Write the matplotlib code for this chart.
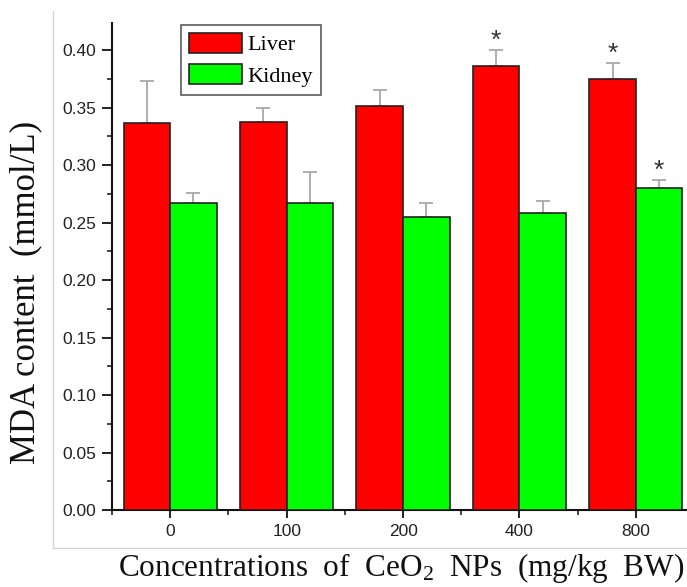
import matplotlib
matplotlib.use("Agg")
import matplotlib.pyplot as plt
import numpy as np
from matplotlib.lines import Line2D
from matplotlib.ticker import MultipleLocator, FixedLocator

plt.rcParams["mathtext.fontset"] = "custom"
plt.rcParams["mathtext.rm"] = "Liberation Serif"
plt.rcParams["mathtext.it"] = "Liberation Serif:italic"
plt.rcParams["mathtext.bf"] = "Liberation Serif:bold"

categories = ["0", "100", "200", "400", "800"]
liver = [0.3362, 0.3374, 0.3510, 0.3862, 0.3746]
liver_err = [0.0366, 0.0125, 0.0146, 0.0142, 0.0142]
kidney = [0.2666, 0.2666, 0.2550, 0.2587, 0.2799]
kidney_err = [0.0087, 0.0270, 0.0122, 0.0099, 0.0070]
liver_sig = [False, False, False, True, True]
kidney_sig = [False, False, False, False, True]

W, H = 687, 587
fig = plt.figure(figsize=(W / 100, H / 100), dpi=100)

# light gray frame (L-shape)
fig.add_artist(Line2D([53 / W, 53 / W], [1 - 11 / H, 1 - 548 / H], color="#d4d4d4", lw=1.0))
fig.add_artist(Line2D([53 / W, 1.0], [1 - 548 / H, 1 - 548 / H], color="#d4d4d4", lw=1.0))

ax_l, ax_b, ax_t = 112, 510, 22.7
ax = fig.add_axes([ax_l / W, 1 - ax_b / H, (W - ax_l) / W, (ax_b - ax_t) / H])

x = np.arange(len(categories))
bw = 0.40
ax.bar(x - bw / 2, liver, bw, color="#ff0000", edgecolor="#222222", linewidth=1.2,
       label="Liver", zorder=3)
ax.bar(x + bw / 2, kidney, bw, color="#00ff00", edgecolor="#222222", linewidth=1.2,
       label="Kidney", zorder=3)

ax.errorbar(x - bw / 2, liver, yerr=[np.zeros(len(x)), liver_err], fmt="none",
            ecolor="#a8a8a8", elinewidth=1.3, capsize=5, capthick=1.3, zorder=2)
ax.errorbar(x + bw / 2, kidney, yerr=[np.zeros(len(x)), kidney_err], fmt="none",
            ecolor="#a8a8a8", elinewidth=1.3, capsize=5, capthick=1.3, zorder=2)

for i in range(len(x)):
    if liver_sig[i]:
        ax.annotate("*", (x[i] - bw / 2, liver[i] + liver_err[i]), xytext=(0, -2),
                    textcoords="offset points", ha="center", va="bottom",
                    fontsize=19, color="#333333", family="Liberation Sans")
    if kidney_sig[i]:
        ax.annotate("*", (x[i] + bw / 2, kidney[i] + kidney_err[i]), xytext=(0, -2),
                    textcoords="offset points", ha="center", va="bottom",
                    fontsize=19, color="#333333", family="Liberation Sans")

ax.set_xlim(-0.5, (W - 171) / 116.25)
ax.set_ylim(0, 0.4238)

ax.spines["top"].set_visible(False)
ax.spines["right"].set_visible(False)
for s in ("left", "bottom"):
    ax.spines[s].set_linewidth(1.5)
    ax.spines[s].set_color("#111111")

ax.set_xticks(x)
ax.set_xticklabels(categories)
ax.xaxis.set_minor_locator(FixedLocator([-0.5, 0.5, 1.5, 2.5, 3.5, 4.5]))
ax.yaxis.set_major_locator(MultipleLocator(0.05))
ax.yaxis.set_minor_locator(MultipleLocator(0.025))
ax.yaxis.set_major_formatter(matplotlib.ticker.FormatStrFormatter("%.2f"))

ax.tick_params(axis="y", which="major", direction="out", length=7.5, width=1.3, color="#111111")
ax.tick_params(axis="y", which="minor", direction="out", length=3.5, width=1.1, color="#111111")
ax.tick_params(axis="x", which="major", direction="out", length=6, width=1.3, color="#111111")
ax.tick_params(axis="x", which="minor", direction="out", length=3.5, width=1.1, color="#111111")
for lab in ax.get_xticklabels() + ax.get_yticklabels():
    lab.set_family("Liberation Sans")
    lab.set_fontsize(12.5)
    lab.set_color("#222222")
ax.tick_params(axis="x", pad=4)
ax.tick_params(axis="y", pad=4)

fig.text(26 / W, 1 - 292 / H, "MDA content  (mmol/L)", rotation=90, ha="center", va="center",
         family="Liberation Serif", fontsize=25, color="#111111")
fig.text(401 / W, 1 - 568 / H, "Concentrations  of  CeO$_2$  NPs  (mg/kg  BW)", ha="center",
         va="center", family="Liberation Serif", fontsize=22.5, color="#111111")

leg = ax.legend(loc="upper left", bbox_to_anchor=((181 - ax_l) / (W - ax_l), 1 - (25 - ax_t) / (ax_b - ax_t)),
                prop={"family": "Liberation Serif", "size": 16}, frameon=True, fancybox=False,
                handlelength=2.4, handleheight=1.0, handletextpad=0.25, borderpad=0.35,
                labelspacing=0.4, borderaxespad=0)
leg.get_frame().set_edgecolor("#444444")
leg.get_frame().set_linewidth(1.3)

fig.savefig("out.png", dpi=100)
